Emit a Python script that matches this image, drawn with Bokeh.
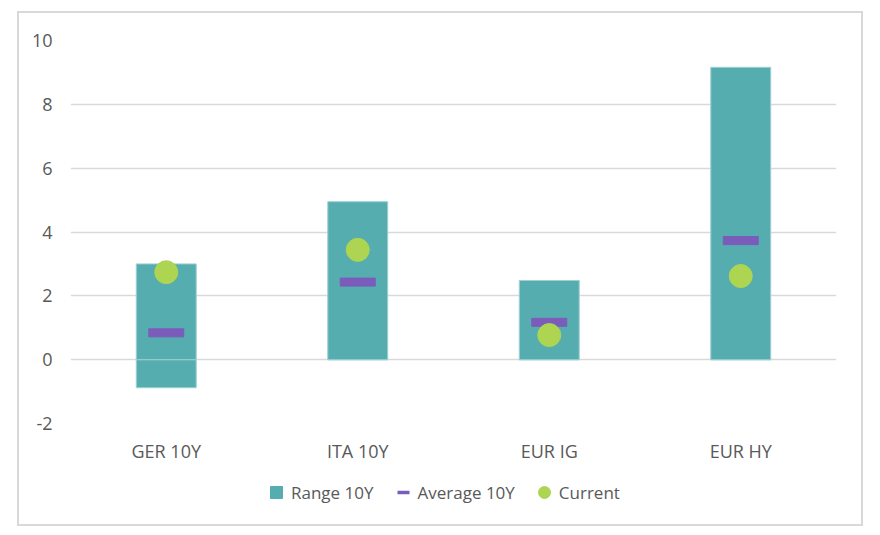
from bokeh.plotting import figure
from bokeh.layouts import column
from bokeh.models import (ColumnDataSource, Legend, LegendItem, FactorRange,
                          Range1d, FixedTicker, CustomJSTickFormatter)
from bokeh.embed import file_html
from bokeh.resources import INLINE

categories = ["GER 10Y", "ITA 10Y", "EUR IG", "EUR HY"]
range_low = [-0.88, 0.0, 0.0, 0.0]
range_high = [3.0, 4.95, 2.48, 9.16]
average = [0.84, 2.43, 1.17, 3.73]
current = [2.74, 3.44, 0.77, 2.62]
y_ticks = [-2, 0, 2, 4, 6, 8, 10]
series_names = ["Range 10Y", "Average 10Y", "Current"]

TEAL = "#56ADB0"
PURPLE = "#7B5CBA"
GREEN = "#ADD552"
TXT = "#595959"
FONT = "Open Sans"

src = ColumnDataSource(dict(
    cat=categories,
    low=range_low,
    high=range_high,
    neg_top=[min(0.0, h) for h in range_high],
    pos_bot=[max(0.0, l) for l in range_low],
    avg=average,
    cur=current,
))

p = figure(x_range=FactorRange(*categories), y_range=Range1d(-2, 10),
           width=842, height=457, output_backend="svg", toolbar_location=None,
           min_border_left=51, min_border_right=25, min_border_top=27,
           min_border_bottom=47)
p.outline_line_color = None
p.background_fill_color = "white"

# range bars (negative and positive part, as in stacked chart)
p.vbar(x="cat", bottom="low", top="neg_top", width=0.313, source=src,
       fill_color=TEAL, line_color="#9fd0d2", line_width=1)
p.vbar(x="cat", bottom="pos_bot", top="high", width=0.313, source=src,
       fill_color=TEAL, line_color="#9fd0d2", line_width=1)
# average markers
p.rect(x="cat", y="avg", width=35, height=8, width_units="screen",
       height_units="screen", source=src, fill_color=PURPLE, line_color=PURPLE)
# current points
p.scatter(x="cat", y="cur", size=23, source=src, fill_color=GREEN,
          line_color=GREEN)

p.yaxis.ticker = FixedTicker(ticks=y_ticks)
p.yaxis.formatter = CustomJSTickFormatter(code="return tick.toFixed(0);")
p.ygrid.ticker = FixedTicker(ticks=y_ticks)
p.ygrid.grid_line_color = "#d9d9d9"
p.ygrid.grid_line_width = 1.5
p.xgrid.grid_line_color = None

for ax in (p.xaxis, p.yaxis):
    ax.axis_line_color = None
    ax.major_tick_line_color = None
    ax.minor_tick_line_color = None
    ax.major_tick_out = 0
    ax.major_tick_in = 0
    ax.major_label_text_font = FONT
    ax.major_label_text_font_size = "18px"
    ax.major_label_text_color = TXT
p.yaxis.major_label_standoff = 18
p.xaxis.major_label_standoff = 15

# legend strip
lf = figure(width=842, height=54, output_backend="svg", toolbar_location=None,
            x_range=Range1d(0, 1), y_range=Range1d(0, 1),
            min_border_left=0, min_border_right=0, min_border_top=0,
            min_border_bottom=0)
lf.axis.visible = False
lf.grid.visible = False
lf.outline_line_color = None
nan = float("nan")
l1 = lf.scatter([nan], [nan], marker="square", fill_color=TEAL, line_color=TEAL)
l2 = lf.scatter([nan], [nan], marker="dash", line_color=PURPLE, line_width=3.5)
l3 = lf.scatter([nan], [nan], marker="circle", fill_color=GREEN, line_color=GREEN)
legend = Legend(items=[LegendItem(label=series_names[0], renderers=[l1]),
                       LegendItem(label=series_names[1], renderers=[l2]),
                       LegendItem(label=series_names[2], renderers=[l3])],
                orientation="horizontal", location=(191, 17),
                glyph_width=30, glyph_height=30, label_standoff=-6,
                spacing=14, padding=0, margin=0,
                border_line_color=None, background_fill_alpha=0,
                label_text_font=FONT, label_text_font_size="17px",
                label_text_color=TXT)
lf.add_layout(legend, "center")

lay = column(p, lf, spacing=0)
lay.styles = {"margin-left": "17px", "margin-top": "11px",
              "border": "2px solid #d9d9d9", "width": "fit-content"}

open("out.html", "w").write(file_html(lay, INLINE))
